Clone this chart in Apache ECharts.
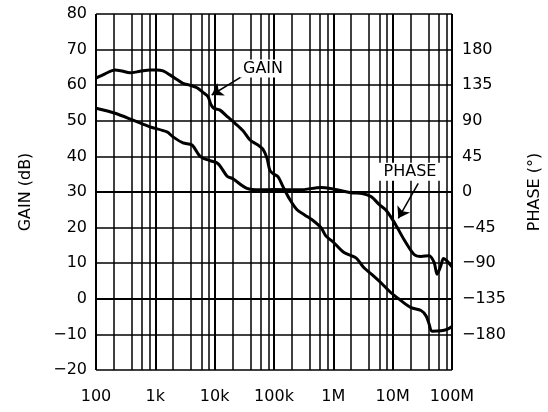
<!DOCTYPE html>
<html>
<head>
<meta charset="utf-8">
<script src="https://cdn.jsdelivr.net/npm/echarts@6/dist/echarts.min.js"></script>
<style>html,body{margin:0;padding:0;background:#fff}#c{width:548px;height:412px}</style>
</head>
<body>
<div id="c"></div>
<script>
// ---- data ----
var gainFreq = [100,142,209,274,374,552,813,1066,1346,1766,2318,2926,3839,5038,6356,7726,8676,9745,12300,16790,22030,30060,39440,53750,65310,76250,85640,100000,116700,141800,186200,244300,333000,454500,619700,753000,988000,1514000,2410000,3290000,4490000,6360000,9370000,13300000,20400000,30000000,36500000,41000000,46000000,65300000,82400000,100000000];
var gainDb = [62.0,63.2,64.3,64.0,63.5,63.9,64.3,64.3,64.0,62.9,61.6,60.5,60.0,59.3,58.0,56.8,54.5,53.5,53.0,51.0,49.3,47.2,44.6,43.2,42.0,39.5,36.0,35.0,34.3,31.5,27.8,25.0,23.5,22.0,20.0,17.6,16.0,13.0,11.5,8.7,6.8,4.5,1.7,-0.3,-2.5,-3.3,-4.8,-7.0,-9.1,-9.0,-8.6,-7.8];
var phaseFreq = [100,209,420,813,1570,1980,2926,4150,5680,8330,11370,16200,20300,35000,57800,100000,275000,620000,1020000,2000000,3070000,4300000,6100000,7600000,9600000,11700000,15500000,23000000,30000000,41000000,50000000,56000000,64000000,72000000,82000000,100000000];
var phaseDeg = [105.8,99.5,90.9,82.4,76,69.8,62,59.4,45,39.6,36,20,16.7,4.5,2.7,3.2,2.7,5.8,3.6,-0.9,-1.8,-5.8,-16.7,-22.5,-33,-43.7,-60,-79,-81.5,-80.6,-89,-104,-94.5,-84,-87,-94.5];
var gridFreqs = [100,200,400,600,800,1000,2000,4000,6000,8000,10000,20000,40000,60000,80000,100000,200000,400000,600000,800000,1000000,2000000,4000000,6000000,8000000,10000000,20000000,40000000,60000000,80000000,100000000];
var xTickLabels = {100:'100',1000:'1k',10000:'10k',100000:'100k',1000000:'1M',10000000:'10M',100000000:'100M'};

function pairs(xs, ys){ return xs.map(function(x,i){return [x, ys[i]];}); }
function fmtNeg(v){ return (v < 0 ? '\u2212' + Math.abs(v) : String(v)); }

var FONT = 'DejaVu Sans';
var chart = echarts.init(document.getElementById('c'), null, {renderer:'canvas'});

var vLines = gridFreqs.map(function(f){
  var dec = Math.abs(Math.log10(f) - Math.round(Math.log10(f))) < 1e-9;
  return {xAxis: f, lineStyle: {width: dec ? 2 : 1.5}};
});

chart.setOption({
  animation: false,
  backgroundColor: '#fff',
  grid: {left: 96, right: 96, top: 14, bottom: 42, containLabel: false, outerBoundsMode: 'none'},
  xAxis: {
    type: 'log', logBase: 10, min: 100, max: 100000000,
    axisLine: {show: false}, axisTick: {show: false},
    splitLine: {show: false},
    axisLabel: {
      color: '#000', fontFamily: FONT, fontSize: 16, margin: 19,
      formatter: function(v){ var k = Math.round(v); return xTickLabels[k] || ''; }
    }
  },
  yAxis: [
    {
      type: 'value', min: -20, max: 80, interval: 10,
      name: 'GAIN (dB)', nameLocation: 'middle', nameGap: 62, nameRotate: 90,
      nameTextStyle: {color: '#000', fontFamily: FONT, fontSize: 16},
      axisLine: {show: false}, axisTick: {show: false},
      axisLabel: {color: '#000', fontFamily: FONT, fontSize: 16, margin: 9, formatter: fmtNeg},
      splitLine: {show: true, lineStyle: {color: '#000', width: 1.5}}
    },
    {
      type: 'value', min: -225, max: 225, interval: 45, position: 'right',
      name: 'PHASE (\u00B0)', nameLocation: 'middle', nameGap: 75, nameRotate: 90,
      nameTextStyle: {color: '#000', fontFamily: FONT, fontSize: 16},
      axisLine: {show: false}, axisTick: {show: false},
      axisLabel: {color: '#000', fontFamily: FONT, fontSize: 16, margin: 10,
        formatter: function(v){ return (Math.abs(v) > 200) ? '' : fmtNeg(v); }},
      splitLine: {show: false}
    }
  ],
  series: [
    {
      name: 'GAIN', type: 'line', yAxisIndex: 0, showSymbol: false, smooth: 0.3,
      data: pairs(gainFreq, gainDb),
      lineStyle: {color: '#000', width: 3}, z: 5,
      markLine: {
        silent: true, symbol: ['none','none'], animation: false,
        label: {show: false},
        lineStyle: {color: '#000', type: 'solid', width: 1.5},
        data: vLines.concat([
          {yAxis: 30, lineStyle: {width: 2.2}},
          {yAxis: 0, lineStyle: {width: 2.2}},
          [{coord: [28600, 62.4], symbol: 'none', lineStyle: {width: 1.5}},
           {coord: [8910, 57.25], symbol: 'arrow', symbolSize: 11}]
        ])
      },
      markPoint: {
        silent: true, animation: false,
        data: [{coord: [65300, 64.7], symbol: 'rect', symbolSize: [46, 18],
          itemStyle: {color: '#fff'},
          label: {show: true, position: 'inside', formatter: 'GAIN', color: '#000', fontFamily: FONT, fontSize: 16}}]
      }
    },
    {
      name: 'PHASE', type: 'line', yAxisIndex: 1, showSymbol: false, smooth: 0.3,
      data: pairs(phaseFreq, phaseDeg),
      lineStyle: {color: '#000', width: 3}, z: 5,
      markLine: {
        silent: true, animation: false, label: {show: false},
        lineStyle: {color: '#000', type: 'solid', width: 1.5},
        data: [
          [{coord: [27000000, 11], symbol: 'none'},
           {coord: [12450000, -33.3], symbol: 'arrow', symbolSize: 11}]
        ]
      },
      markPoint: {
        silent: true, animation: false,
        data: [{coord: [19600000, 25.7], symbol: 'rect', symbolSize: [62, 18],
          itemStyle: {color: '#fff'},
          label: {show: true, position: 'inside', formatter: 'PHASE', color: '#000', fontFamily: FONT, fontSize: 16}}]
      }
    }
  ]
});
</script>
</body>
</html>
